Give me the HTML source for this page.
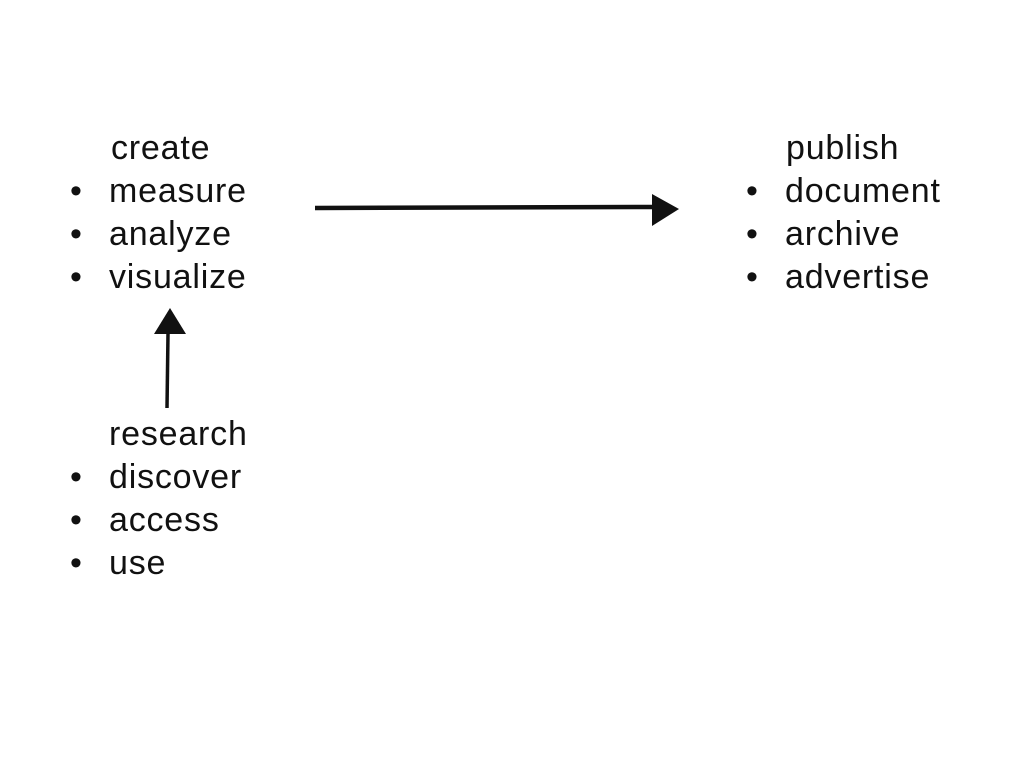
<!DOCTYPE html>
<html><head><meta charset="utf-8"><style>
html,body{margin:0;padding:0;background:#fff;width:1024px;height:768px;overflow:hidden;position:relative}
.t{position:absolute;font-family:"Liberation Sans",sans-serif;font-size:34px;letter-spacing:0.8px;color:#111;line-height:43px;white-space:nowrap}
.b{position:absolute;font-family:"Liberation Sans",sans-serif;font-size:34px;color:#111;line-height:43px}
</style></head><body>
<div class="t" style="left:111px;top:127px">create</div>
<div class="b" style="left:70px;top:170px">•</div><div class="t" style="left:109px;top:170px">measure</div>
<div class="b" style="left:70px;top:213px">•</div><div class="t" style="left:109px;top:213px">analyze</div>
<div class="b" style="left:70px;top:256px">•</div><div class="t" style="left:109px;top:256px">visualize</div>

<div class="t" style="left:109px;top:413px">research</div>
<div class="b" style="left:70px;top:456px">•</div><div class="t" style="left:109px;top:456px">discover</div>
<div class="b" style="left:70px;top:499px">•</div><div class="t" style="left:109px;top:499px">access</div>
<div class="b" style="left:70px;top:542px">•</div><div class="t" style="left:109px;top:542px">use</div>

<div class="t" style="left:786px;top:127px">publish</div>
<div class="b" style="left:746px;top:170px">•</div><div class="t" style="left:785px;top:170px">document</div>
<div class="b" style="left:746px;top:213px">•</div><div class="t" style="left:785px;top:213px">archive</div>
<div class="b" style="left:746px;top:256px">•</div><div class="t" style="left:785px;top:256px">advertise</div>

<svg width="1024" height="768" style="position:absolute;left:0;top:0">
<path d="M315 208 L655 207" stroke="#111" stroke-width="4.5" fill="none"/>
<polygon points="652,194 679,209 652,226" fill="#111"/>
<path d="M167 408 L168 334" stroke="#111" stroke-width="3.5" fill="none"/>
<polygon points="154,334 170,308 186,334" fill="#111"/>
</svg>
</body></html>
